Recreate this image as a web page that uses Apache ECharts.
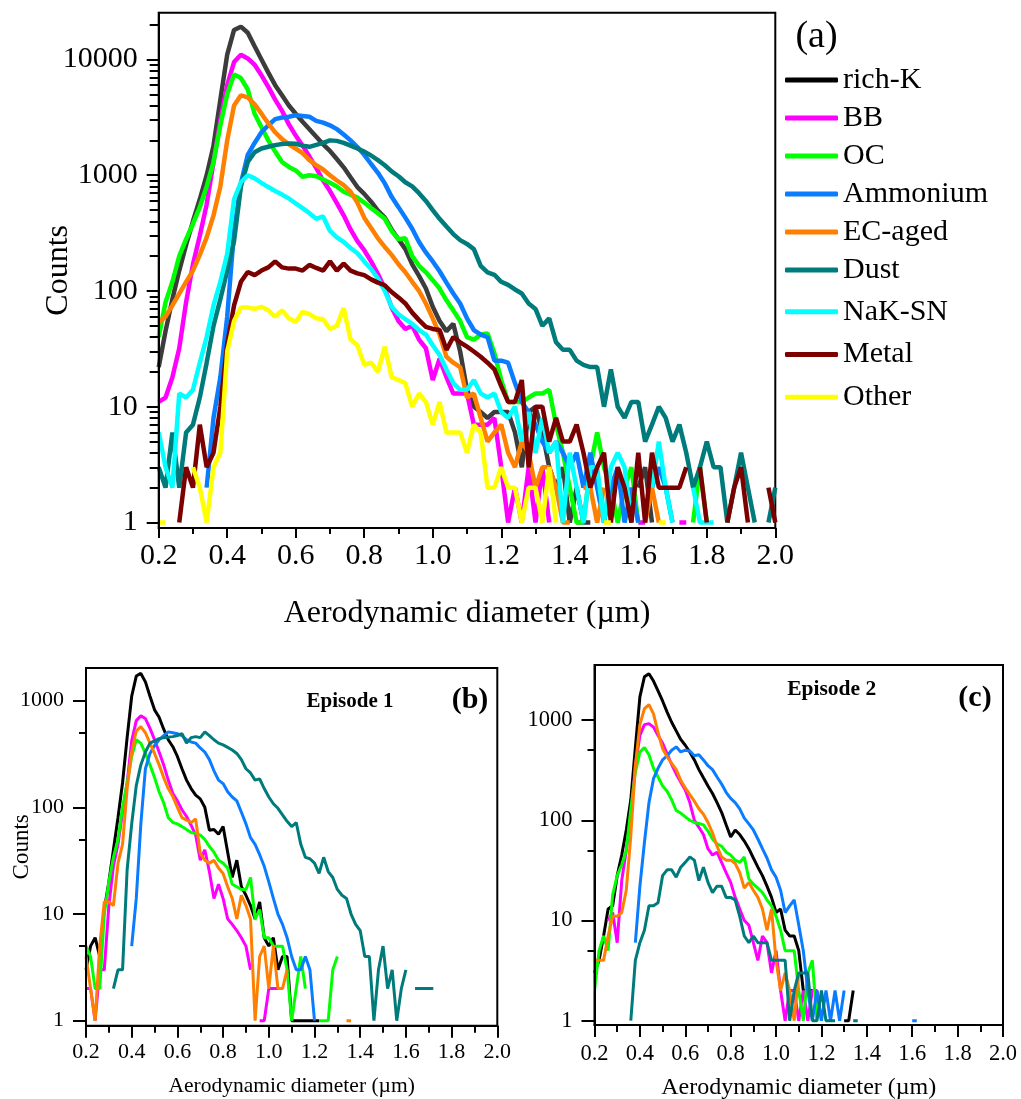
<!DOCTYPE html>
<html>
<head>
<meta charset="utf-8">
<script src="https://cdn.jsdelivr.net/npm/echarts@6/dist/echarts.min.js"></script>
<style>html,body{margin:0;padding:0;background:#fff}#c{width:1021px;height:1099px;background:#fff}</style>
</head>
<body>
<div id="c"></div>
<script>
const _ = null;
// Aerodynamic diameter bins (µm)
const diameters = [0.20,0.22,0.24,0.26,0.28,0.30,0.32,0.34,0.36,0.38,0.40,0.42,0.44,0.46,0.48,0.50,0.52,0.54,0.56,0.58,0.60,0.62,0.64,0.66,0.68,0.70,0.72,0.74,0.76,0.78,0.80,0.82,0.84,0.86,0.88,0.90,0.92,0.94,0.96,0.98,1.00,1.02,1.04,1.06,1.08,1.10,1.12,1.14,1.16,1.18,1.20,1.22,1.24,1.26,1.28,1.30,1.32,1.34,1.36,1.38,1.40,1.42,1.44,1.46,1.48,1.50,1.52,1.54,1.56,1.58,1.60,1.62,1.64,1.66,1.68,1.70,1.72,1.74,1.76,1.78,1.80,1.82,1.84,1.86,1.88,1.90,1.92,1.94,1.96,1.98,2.00];
const seriesNames = ['rich-K','BB','OC','Ammonium','EC-aged','Dust','NaK-SN','Metal','Other'];

// Panel (a): all particles
const aRichK = [22,45,85,150,250,400,620,1000,1800,4500, 11000,18000,19200,17000,13000,10000,7700,6000,4900,4000, 3400,2900,2500,2150,1850,1620,1380,1170,960,790, 690,590,495,430,340,280,230,170,135,105, 73,55,45,52,30,14,10,9,8,9, 9,9,6,3,9,10,6,3,2,3, 1,2,1,1,_,_,_,_,_,_, 2,3,1];
const aBB = [11,12,18,32,80,170,300,560,1300,3000, 6000,9500,11000,10200,9000,7300,5800,4500,3600,2750, 2200,1800,1450,1150,900,730,575,450,340,270, 225,180,140,105,72,55,47,50,38,32, 17,26,18,13,13,13,7,7,7,8, 3,1,2,1,3,1,3,1,_,_, _,1,1,_,_,_,_,_,_,_, 1,1,_,_,_,_,1,1];
const aOC = [40,80,120,200,280,380,530,800,1300,2700, 5000,7400,6900,5500,3400,2600,2000,1600,1300,1180, 1100,970,1000,980,920,860,800,720,680,640, 580,520,470,420,330,280,285,200,165,145, 124,105,83,68,55,40,38,42,43,29, 17,11,11,11,12,13,13,14,7,4, 2,1,1,3,6,3,2,1,2,3, 1,_,_,_,_,_,_,_,1,3, 1];
const aAmmonium = [_,_,_,_,_,_,_,2,8,18, 60,330,850,1500,1900,2350,2700,3050,3150,3200, 3300,3250,3200,2950,2850,2700,2500,2250,2000,1750, 1500,1250,1050,850,650,530,430,345,265,215, 180,148,118,95,78,58,46,42,40,25, 25,24,16,11,9,7,5,4,5,4, 3,4,2,4,2,1,2,3,1,2, 1,_,2,3,2,1];
const aECaged = [53,60,75,95,120,150,205,290,450,800, 2000,4000,4900,4700,4100,3400,2800,2350,2050,1850, 1700,1550,1350,1220,1120,1000,900,820,720,580, 430,350,285,240,205,170,145,120,100,78, 58,42,27,24,22,12,13,8,5,6, 7,4,3,5,4,2,3,3,2,1, 1,_,2,2,1,2,_,_,_,_, _,1,2,1];
const aDust = [3,2,6,2,6,7,12,24,50,85, 150,270,800,1300,1580,1700,1760,1820,1860,1880, 1870,1800,1760,1830,1900,2000,1980,1900,1800,1700, 1600,1480,1350,1220,1080,980,870,800,700,600, 500,420,360,310,275,255,230,165,145,138, 120,113,103,95,78,70,50,58,36,31, 31,25,23,22,22,10,21,10,8,11, 11,5,7,10,8,5,7,4,2,3, 5,3,3,1,2,4,2,1,_,1, 2];
const aNaKSN = [6,3,2,13,12,14,24,40,75,120, 210,620,870,1000,940,860,790,730,680,630, 570,520,470,420,440,330,290,265,235,212, 180,155,128,100,73,63,57,52,46,42, 34,28,21,16,14,14,17,13,12,13, 9,8,10,5,9,4,8,4,5,1, 4,2,1,3,3,1,3,4,3,1, _,_,2,5,2,1,_,_,2,1, 1,1];
const aMetal = [_,_,_,1,3,2,7,3,4,10, 35,75,120,146,137,150,160,180,160,156, 156,150,168,158,150,180,150,172,150,142, 137,126,118,112,98,88,78,65,56,49, 47,46,31,40,36,33,30,27,24,21, 15,11,11,17,3,10,10,5,8,5, 5,7,4,2,3,4,1,3,2,1, 4,1,4,2,2,2,2,3,_,3, 1,_,_,1,2,3,1,_,_,2, 1];
const aOther = [1,1,_,_,_,3,2,1,3,4, 30,55,72,72,70,73,68,60,68,58, 54,66,63,58,57,47,50,71,38,34, 23,24,20,33,18,17,16,10,13,11, 7,11,6,6,6,4,7,6,2,2, 3,2,2,1,2,2,1,3,1,_, _,_,_,_,_,1,1,_,_,_, _,_,_,1,1];

// Panel (b): Episode 1
const bRichK = [3,5,6,4,11,20,40,80,170,450, 1100,1700,1800,1500,1100,820,700,540,430,370, 300,230,180,150,130,120,100,61,62,56, 66,38,22,32,18,15,12,9,13,6, 5,6,3,4,4,1,1,1,1,1, 1,1];
const bBB = [2,2,1,3,3,12,28,45,90,170, 420,650,720,680,550,430,330,250,180,135, 115,95,82,68,55,32,40,25,14,19, 14,9,8,7,6,5,3,_,1,1, 2,2,2,2];
const bOC = [5,4,2,2,10,20,34,50,100,170, 300,430,400,320,250,190,140,110,80,72, 70,66,62,58,57,55,50,43,38,32, 30,27,19,18,17,17,22,9,11,6, 6,5,5,5,3,1,2,4,2,_, _,1,1,1,3,4];
const bAmmonium = [_,_,_,_,_,_,_,_,_,_, 5,14,70,230,320,380,430,470,510,500, 490,470,430,410,400,360,330,280,220,180, 167,140,125,115,90,70,52,45,36,28, 20,14,10,8,6,4,3,3,4,3, 1];
const bECaged = [4,2,1,5,13,13,12,30,45,150, 330,520,570,500,400,320,250,190,150,126, 100,80,76,72,78,37,32,30,32,27, 24,18,14,9,15,12,9,1,4,5, 2,5,2,2,3,_,_,_,_,_, _,_,_,_,_,_,_,1,1];
const bDust = [_,_,_,_,_,_,2,3,3,26, 70,160,250,330,400,420,440,450,455,460, 470,490,400,450,460,450,510,470,430,400, 385,365,345,320,280,230,210,180,185,150, 125,108,98,85,74,66,72,45,34,33, 30,24,34,25,22,17,15,14,10,8, 7,4,4,1,3,5,2,3,1,2, 3,_,2,2,2,2,2];

// Panel (c): Episode 2
const cRichK = [3,4,7,13,14,28,45,80,160,530, 1700,2700,2900,2450,1950,1550,1200,950,780,640, 560,480,400,320,265,220,185,150,120,90, 68,80,72,62,52,42,34,28,22,17, 12,13,8,7,7,5,2,2,2,_, _,_,_,_,_,1,1,2];
const cBB = [_,_,_,10,12,6,25,50,110,350, 700,900,920,850,700,590,460,360,290,240, 200,150,100,85,72,52,45,48,38,30, 24,17,13,10,9,6,4,7,6,3, 5,2,1,2,2,1,2,1,2,2, 1];
const cOC = [2,5,7,5,18,28,36,50,130,300, 480,530,450,330,270,220,195,160,125,118, 108,100,95,93,90,78,65,58,55,48, 45,40,38,43,26,23,21,19,16,14, 11,8,5,5,5,2,1,3,4,1];
const cAmmonium = [_,_,_,_,_,_,_,_,_,6, 22,60,150,260,330,400,440,500,540,480, 500,490,440,450,400,350,320,270,230,190, 165,150,130,105,92,80,65,52,42,32, 27,20,12,14,16,9,5,2,1,2, 1,2,1,2,1,2,_,_,_,_, _,_,_,_,_,_,_,_,_,_, 1,1];
const cECaged = [4,4,4,7,11,11,12,20,70,350, 900,1300,1420,1150,750,520,430,370,320,250, 210,180,155,130,115,95,75,55,43,40, 40,37,30,21,24,20,17,13,8,13, 4,2,3,2,1,3];
const cDust = [_,_,_,_,_,_,_,_,1,4, 6,8,14,14,15,28,32,32,27,34, 38,43,40,25,34,24,19,22,22,17, 17,16,11,7,6,7,6,6,6,4, 4,4,4,1,2,3,3,3,1,1, 2,1,1,1,_,_,_,1,1];

// Tick values / labels
const yMajorA = [1, 10, 100, 1000, 10000];
const yMinorA = [2,3,4,5,6,7,8,9,20,30,40,50,60,70,80,90,200,300,400,500,600,700,800,900,2000,3000,4000,5000,6000,7000,8000,9000,20000];
const yMajorBC = [1, 10, 100, 1000];
const yMinorBC = [5, 50, 500];

const colorsA = ['#3c3c3c','#ff00ff','#00ff00','#0a7cff','#ff7f00','#007b7b','#00ffff','#7b0000','#ffff00'];
const colorsBC = ['#000000','#ff00ff','#00ff00','#0a7cff','#ff7f00','#007b7b'];

const serif = '"Liberation Serif", "Times New Roman", serif';

function pairs(vals) { return vals.map((v, i) => [diameters[i], v]); }

function xAxisFor(k, fs, nameFs, margin, nameGap, majorLen, minorLen) {
  return {
    gridIndex: k, type: 'value', position: 'bottom', min: 0.2, max: 2.0, interval: 0.2, z: 5,
    axisLine: { show: true, onZero: false, lineStyle: { color: '#000', width: 2 } },
    axisTick: { show: true, inside: false, length: majorLen, lineStyle: { color: '#000', width: 2 } },
    minorTick: { show: true, splitNumber: 2, length: minorLen, lineStyle: { color: '#000', width: 2 } },
    splitLine: { show: false }, minorSplitLine: { show: false },
    axisLabel: { show: true, margin: margin, fontFamily: serif, fontSize: fs, color: '#000',
      formatter: v => v.toFixed(1) },
    name: 'Aerodynamic diameter (µm)', nameLocation: 'middle', nameGap: nameGap, nameMoveOverlap: false,
    nameTextStyle: { fontFamily: serif, fontSize: nameFs, color: '#000' }
  };
}
function yAxesFor(k, min, max, major, minor, fs, margin, majorLen, minorLen, name, nameFs, nameGap) {
  return [{
    gridIndex: k, type: 'log', logBase: 10, position: 'left', offset: 0, min: min, max: max, z: 5,
    axisLine: { show: true, onZero: false, lineStyle: { color: '#000', width: 2 } },
    axisTick: { show: true, inside: false, length: majorLen, customValues: major, lineStyle: { color: '#000', width: 2 } },
    axisLabel: { show: true, customValues: major, margin: margin, fontFamily: serif, fontSize: fs, color: '#000',
      formatter: v => String(Math.round(v)) },
    splitLine: { show: false }, minorTick: { show: false },
    name: name, nameLocation: 'middle', nameGap: nameGap, nameMoveOverlap: false,
    nameTextStyle: { fontFamily: serif, fontSize: nameFs, color: '#000' }
  }, {
    gridIndex: k, type: 'log', logBase: 10, position: 'left', offset: 0, min: min, max: max, z: 5,
    axisLine: { show: false },
    axisTick: { show: true, inside: false, length: minorLen, customValues: minor, lineStyle: { color: '#000', width: 2 } },
    axisLabel: { show: false }, splitLine: { show: false }
  }];
}

const panelA = [aRichK, aBB, aOC, aAmmonium, aECaged, aDust, aNaKSN, aMetal, aOther];
const panelB = [bRichK, bBB, bOC, bAmmonium, bECaged, bDust];
const panelC = [cRichK, cBB, cOC, cAmmonium, cECaged, cDust];

const series = [];
panelA.forEach((vals, s) => series.push({
  name: seriesNames[s], type: 'line', xAxisIndex: 0, yAxisIndex: 0, data: pairs(vals),
  symbol: 'none', showSymbol: false, connectNulls: false,
  lineStyle: { width: 4.5, color: colorsA[s] }, itemStyle: { color: colorsA[s] }
}));
[[panelB, 1, 2], [panelC, 2, 4]].forEach(([panel, xi, yi]) => {
  panel.forEach((vals, s) => series.push({
    name: seriesNames[s], type: 'line', xAxisIndex: xi, yAxisIndex: yi, data: pairs(vals),
    symbol: 'none', showSymbol: false, connectNulls: false,
    lineStyle: { width: 3, color: colorsBC[s] }, itemStyle: { color: colorsBC[s] }
  }));
});

const legendText = { fontFamily: serif, fontSize: 30, color: '#000', lineHeight: 30 };
const gridBase = { show: true, borderColor: '#000', borderWidth: 2, containLabel: false, outerBoundsMode: 'none' };
const option = {
  animation: false,
  grid: [
    Object.assign({ left: 158.7, top: 12.7, width: 616.6, height: 515.3 }, gridBase),
    Object.assign({ left: 86, top: 668, width: 411.3, height: 357.7 }, gridBase),
    Object.assign({ left: 594.5, top: 665, width: 408.5, height: 360 }, gridBase)
  ],
  xAxis: [
    xAxisFor(0, 30, 32, 13, 70, 10, 6),
    xAxisFor(1, 22, 21.5, 16, 50, 12, 7),
    xAxisFor(2, 22.5, 24, 18, 51, 12, 7)
  ],
  yAxis: [].concat(
    yAxesFor(0, 0.896, 25350, yMajorA, yMinorA, 30, 21, 12, 9, 'Counts', 32, 84),
    yAxesFor(1, 0.898, 2023, yMajorBC, yMinorBC, 22, 22, 13, 7, 'Counts', 23, 53),
    yAxesFor(2, 0.906, 3540, yMajorBC, yMinorBC, 22.5, 22, 13, 7, '', 23, 50)
  ),
  legend: [
    { orient: 'vertical', left: 785, top: 65, padding: 0, itemWidth: 53, itemHeight: 5, itemGap: 8,
      icon: 'roundRect', selectedMode: false, textStyle: legendText,
      data: [{ name: 'rich-K', itemStyle: { color: '#000' } }, 'BB', 'OC', 'Ammonium', 'EC-aged', 'Dust'] },
    { orient: 'vertical', left: 785, top: 296.7, padding: 0, itemWidth: 53, itemHeight: 5, itemGap: 12.8,
      icon: 'roundRect', selectedMode: false, textStyle: legendText,
      data: ['NaK-SN', 'Metal', 'Other'] }
  ],
  graphic: [
    { type: 'text', x: 816.5, y: 37, style: { text: '(a)', font: '38px "Liberation Serif"', fill: '#000', align: 'center', verticalAlign: 'middle' } },
    { type: 'text', x: 350, y: 702, style: { text: 'Episode 1', font: 'bold 21px "Liberation Serif"', fill: '#000', align: 'center', verticalAlign: 'middle' } },
    { type: 'text', x: 470, y: 700, style: { text: '(b)', font: 'bold 30px "Liberation Serif"', fill: '#000', align: 'center', verticalAlign: 'middle' } },
    { type: 'text', x: 831.7, y: 689.5, style: { text: 'Episode 2', font: 'bold 21.5px "Liberation Serif"', fill: '#000', align: 'center', verticalAlign: 'middle' } },
    { type: 'text', x: 975, y: 698.5, style: { text: '(c)', font: 'bold 30px "Liberation Serif"', fill: '#000', align: 'center', verticalAlign: 'middle' } }
  ],
  series: series
};
const chart = echarts.init(document.getElementById('c'), null, { renderer: 'canvas', width: 1021, height: 1099 });
chart.setOption(option);
</script>
</body>
</html>
